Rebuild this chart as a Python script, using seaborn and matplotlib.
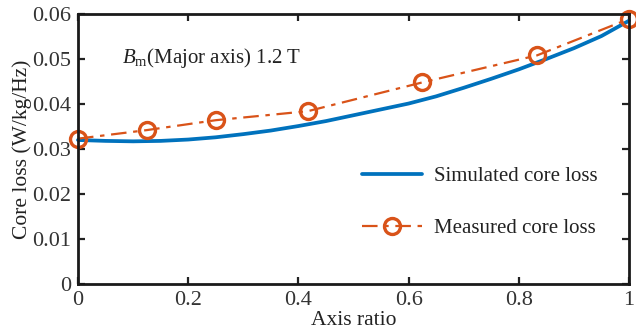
import numpy as np
import pandas as pd
import matplotlib
matplotlib.use("Agg")
import matplotlib.pyplot as plt
import seaborn as sns
from matplotlib.ticker import FuncFormatter

sim_x = [0.0, 0.05, 0.1, 0.15, 0.2, 0.25, 0.3, 0.35, 0.4, 0.45, 0.5,
         0.55, 0.6, 0.65, 0.7, 0.75, 0.8, 0.85, 0.9, 0.95, 1.0]
sim_y = [0.0320, 0.0318, 0.0317, 0.0318, 0.0321, 0.0326, 0.0333, 0.0341,
         0.0351, 0.0362, 0.0375, 0.0388, 0.0401, 0.0417, 0.0436, 0.0456,
         0.0477, 0.0500, 0.0524, 0.0551, 0.0585]
meas_x = [0.0, 0.125, 0.25, 0.417, 0.625, 0.833, 1.0]
meas_y = [0.0323, 0.0342, 0.0364, 0.0384, 0.0448, 0.0508, 0.0589]
x_ticks = [0, 0.2, 0.4, 0.6, 0.8, 1.0]
y_ticks = [0, 0.01, 0.02, 0.03, 0.04, 0.05, 0.06]

sns.set_theme(style="ticks")
plt.rcParams['font.family'] = ['Liberation Serif', 'DejaVu Serif']
plt.rcParams['mathtext.fontset'] = 'custom'
plt.rcParams['mathtext.rm'] = 'Liberation Serif'
plt.rcParams['mathtext.it'] = 'Liberation Serif:italic'

fig = plt.figure(figsize=(6.36, 3.3), dpi=100)
ax = fig.add_axes([0.1226, 0.1394, 0.8664, 0.8182])

sim_df = pd.DataFrame({"x": sim_x, "y": sim_y})
meas_df = pd.DataFrame({"x": meas_x, "y": meas_y})

sns.lineplot(data=sim_df, x="x", y="y", ax=ax, color="#0072BD", linewidth=2.7,
             label="Simulated core loss", clip_on=False)
sns.lineplot(data=meas_df, x="x", y="y", ax=ax, color="#D95319", linewidth=1.6,
             marker="o", markersize=11.5, markerfacecolor="none",
             markeredgecolor="#D95319", markeredgewidth=2.4,
             label="Measured core loss", clip_on=False)
ax.lines[1].set_dashes([7, 3, 2, 3])

ax.set_xlim(0, 1)
ax.set_ylim(0, 0.06)
ax.set_xticks(x_ticks)
ax.set_yticks(y_ticks)
fmt = FuncFormatter(lambda v, p: f"{v:g}")
ax.xaxis.set_major_formatter(fmt)
ax.yaxis.set_major_formatter(fmt)
ax.tick_params(direction="in", length=5, width=1.6, top=True, right=True,
               labelsize=16, colors="#222222", labelcolor="#333333", pad=5)
for s in ax.spines.values():
    s.set_visible(True)
    s.set_linewidth(2.0)
    s.set_color("#1a1a1a")

ax.set_xlabel("Axis ratio", fontsize=15.5, color="#222222", labelpad=1)
ax.set_ylabel("Core loss (W/kg/Hz)", fontsize=15.5, color="#222222", labelpad=0)

ax.text(0.08, 0.837, r"$B_{\mathrm{m}}$(Major axis) 1.2 T", transform=ax.transAxes,
        fontsize=15, color="#222222", va="center", ha="left")

leg = ax.legend(loc="upper left", bbox_to_anchor=(0.5, 0.465), frameon=False,
                fontsize=15, handlelength=2.9, labelspacing=1.55, handletextpad=0.55,
                borderaxespad=0)
for t in leg.get_texts():
    t.set_color("#222222")

fig.savefig("out.png", dpi=100)
